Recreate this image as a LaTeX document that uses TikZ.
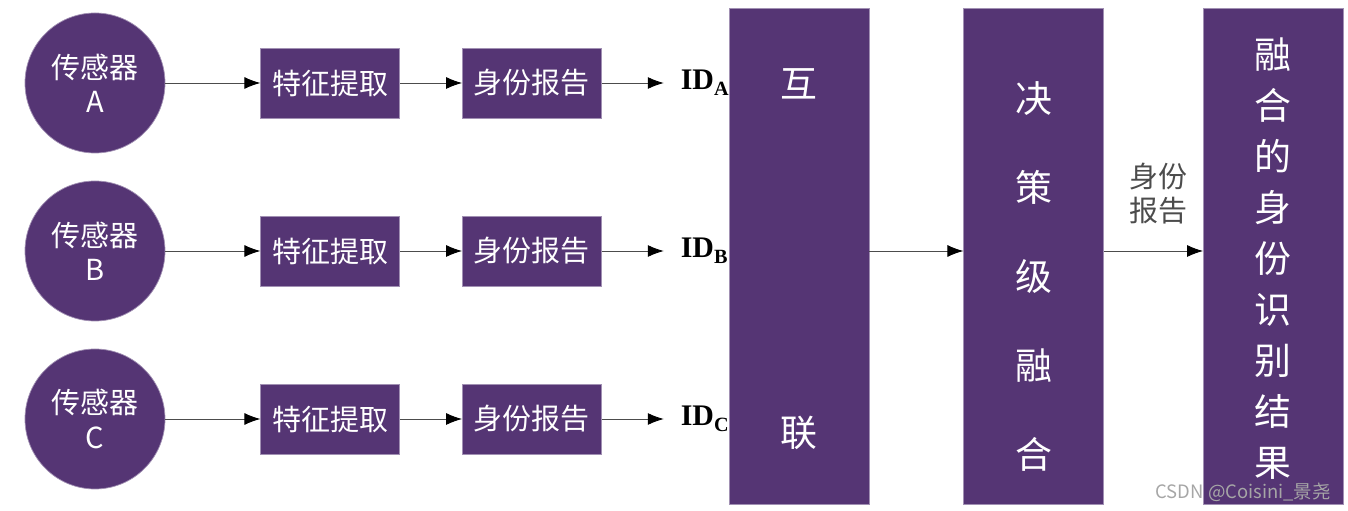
\documentclass[tikz,border=0pt]{standalone}
\usepackage{fontspec}
\setmainfont{Noto Sans CJK SC}
\newfontfamily\idfont{Liberation Serif}
\usepackage{xcolor}
\usetikzlibrary{arrows.meta,positioning}
\definecolor{idpurple}{RGB}{85,53,116}

\begin{document}
\begin{tikzpicture}[
    node distance=1.2cm,
    sensor/.style={circle, fill=idpurple, draw=idpurple!55!white, text=white, minimum size=2.8cm, align=center, font=\fontsize{16.5}{19.5}\selectfont},
    stepbox/.style={rectangle, fill=idpurple, draw=idpurple!55!white, text=white, minimum width=2.78cm, minimum height=1.4cm, font=\fontsize{16.5}{18}\selectfont},
    colbox/.style={rectangle, fill=idpurple, draw=idpurple!55!white, minimum width=2.8cm, minimum height=9.92cm},
    coltext/.style={text=white, align=center, inner sep=0pt},
    idlabel/.style={inner sep=1pt, font=\idfont\bfseries\fontsize{17}{18}\selectfont},
    arrow/.style={-{Latex[length=3.2mm,width=2.4mm,color=black]}, line width=0.5pt, black!70}
]
    \useasboundingbox (0,0) rectangle (26.96,10.22);

    % Row A
    \node[sensor] (sA) at (1.9,8.56) {传感器\\A};
    \node[stepbox, right=1.9cm of sA] (fA) {特征提取};
    \node[stepbox, right=1.24cm of fA] (rA) {身份报告};
    \node[idlabel, right=1.54cm of rA] (idA) {ID\raisebox{-0.45ex}{\fontsize{11.5}{12}\selectfont A}};

    % Row B
    \node[sensor] (sB) at (1.9,5.2) {传感器\\B};
    \node[stepbox, right=1.9cm of sB] (fB) {特征提取};
    \node[stepbox, right=1.24cm of fB] (rB) {身份报告};
    \node[idlabel, right=1.54cm of rB] (idB) {ID\raisebox{-0.45ex}{\fontsize{11.5}{12}\selectfont B}};

    % Row C
    \node[sensor] (sC) at (1.9,1.84) {传感器\\C};
    \node[stepbox, right=1.9cm of sC] (fC) {特征提取};
    \node[stepbox, right=1.24cm of fC] (rC) {身份报告};
    \node[idlabel, right=1.54cm of rC] (idC) {ID\raisebox{-0.45ex}{\fontsize{11.5}{12}\selectfont C}};

    % Arrows along the rows
    \draw[arrow] (sA) -- (fA);
    \draw[arrow] (fA) -- (rA);
    \draw[arrow, shorten >=0.3cm] (rA) -- (idA);
    \draw[arrow] (sB) -- (fB);
    \draw[arrow] (fB) -- (rB);
    \draw[arrow, shorten >=0.3cm] (rB) -- (idB);
    \draw[arrow] (sC) -- (fC);
    \draw[arrow] (fC) -- (rC);
    \draw[arrow, shorten >=0.3cm] (rC) -- (idC);

    % Tall boxes
    \node[colbox] (link) at (15.98,5.1) {};
    \node[colbox, right=1.88cm of link] (fuse) {};
    \node[colbox, right=1.98cm of fuse] (result) {};

    \node[coltext, font=\fontsize{21}{22}\selectfont, below=1.22cm of link.north] (hu) {互};
    \node[coltext, font=\fontsize{21}{22}\selectfont, above=1.08cm of link.south] (lian) {联};
    \node[coltext, font=\fontsize{21}{50.6}\selectfont] (fusetext) at ([yshift=-0.41cm]fuse.center) {决\\策\\级\\融\\合};
    \node[coltext, font=\fontsize{21}{29}\selectfont] (restext) at ([yshift=-0.05cm]result.center) {融\\合\\的\\身\\份\\识\\别\\结\\果};

    \draw[arrow] (link.east |- rB) -- (fuse.west |- rB);
    \draw[arrow] (fuse.east |- rB) -- node[above=0.42cm, xshift=0.1cm, align=center, font=\fontsize{16.5}{19}\selectfont] (replabel) {身份\\报告} (result.west |- rB);

    % Watermark
    \node[anchor=east, text=gray!70, font=\fontsize{10.5}{12}\selectfont] (mark) at (26.74,0.38) {CSDN @Coisini\_景尧};
\end{tikzpicture}
\end{document}
